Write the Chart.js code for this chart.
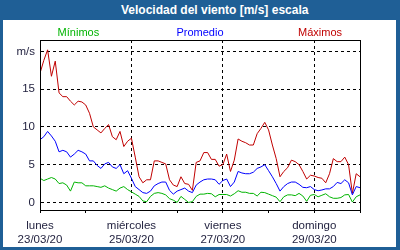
<!DOCTYPE html>
<html>
<head>
<meta charset="utf-8">
<script src="https://cdn.jsdelivr.net/npm/chart.js@4"></script>
<style>
    body { margin: 0; width: 400px; height: 250px; background: #1f5f96; position: relative; overflow: hidden; font-family: 'Liberation Sans', Arial, sans-serif; }
    #title { position: absolute; left: 121px; top: 0; height: 20px; line-height: 20px; color: #fff; font-weight: bold; font-size: 12px; white-space: nowrap; }
    #box { position: absolute; left: 3px; top: 20px; width: 393px; height: 227px; background: #fff; }
</style>
</head>
<body>
<div id="title">Velocidad del viento [m/s] escala</div>
<div id="box"><canvas id="windChart" width="393" height="227"></canvas></div>
<script>
// hours since lunes 23/03/20 00:00, one reading every 2 hours
const stepHours = 2;
const dayTicks = [0, 48, 96, 144];
const dayNames = ['lunes', 'miércoles', 'viernes', 'domingo'];
const dayDates = ['23/03/20', '25/03/20', '27/03/20', '29/03/20'];
const yTicks = [0, 5, 10, 15, 20];
const seriesNames = ['Mínimos', 'Promedio', 'Máximos'];

const maximos = [
    17.1, 18.8, 20.2, 16.7, 18.7, 14.5, 14.0, 14.0, 13.4, 12.9, 13.4, 13.3, 12.9, 11.8, 10.0, 9.6, 9.2, 9.8, 10.3, 8.7, 8.3, 9.4,
    7.4, 8.1, 8.5, 6.0, 3.4, 2.6, 3.0, 3.0, 5.5, 5.5, 5.3, 5.1, 3.0, 2.3, 2.1, 3.4, 2.5, 2.4, 1.6, 5.3, 5.5,
    6.6, 6.6, 5.7, 5.7, 4.8, 5.0, 6.4, 4.1, 5.6, 8.4, 8.1, 7.9, 7.6, 7.6, 9.1, 9.8, 10.6, 9.6, 7.6, 5.8, 3.4,
    4.1, 4.6, 5.6, 5.4, 5.0, 4.1, 3.1, 3.6, 3.5, 3.3, 3.2, 2.6, 3.8, 5.8, 5.4, 5.4, 6.0, 5.0, 1.2, 3.8, 3.4
];
const promedio = [
    8.3, 8.7, 9.4, 8.8, 8.1, 6.7, 6.9, 6.7, 6.0, 6.4, 6.9, 6.7, 6.4, 5.5, 5.5, 4.9, 4.5, 5.1, 5.3, 4.7, 4.5, 5.0,
    3.8, 4.2, 3.2, 2.1, 1.7, 1.3, 1.2, 1.5, 2.2, 2.5, 2.7, 2.7, 1.6, 1.1, 1.5, 1.7, 1.9, 1.5, 1.3, 2.3, 2.7,
    3.0, 3.1, 3.1, 3.0, 2.4, 2.9, 3.1, 2.1, 2.7, 4.1, 3.9, 3.8, 3.8, 4.0, 4.5, 4.7, 5.0, 4.2, 3.4, 2.5, 1.5,
    2.1, 2.5, 2.7, 2.7, 2.4, 2.0, 1.95, 2.1, 1.7, 1.55, 1.65, 1.8, 1.8, 2.1, 2.65, 2.5, 3.0, 2.6, 1.0, 2.1, 1.95
];
const minimos = [
    3.2, 2.9, 3.1, 3.3, 3.1, 2.5, 2.6, 2.3, 1.5, 2.7, 2.6, 2.6, 2.2, 2.2, 2.2, 2.1, 2.0, 2.2, 1.9, 1.7, 1.5, 1.9,
    2.1, 1.7, 1.4, 1.1, 0.8, 0.2, 0.1, 0.8, 1.2, 1.3, 1.2, 1.0, 0.5, 0.3, 0.0, 0.8, 0.4, 0.0, 0.1, 0.8, 1.1,
    1.1, 1.2, 1.15, 0.75, 1.05, 1.05, 1.05, 0.85, 1.15, 1.55, 1.35, 1.35, 1.2, 1.2, 0.85, 1.35, 1.3, 1.1, 0.9, 0.7, 0.1,
    0.75, 1.0, 1.0, 0.9, 1.2, 0.85, 0.15, 0.95, 1.05, 0.75, 0.95, 1.15, 0.75, 0.55, 0.55, 0.65, 1.0, 1.05, 0.05, 0.75, 1.0
];

const colors = ['#00b400', '#0000ff', '#c00000'];
const textColor = '#1e1e3c';

function toPoints(values) {
    return values.map(function(v, i) { return { x: i * stepHours, y: v }; });
}

// frame round the plot and the three series names above it
const framePlugin = {
    id: 'frame',
    afterDraw: function(chart) {
        const ctx = chart.ctx;
        const a = chart.chartArea;
        ctx.save();
        ctx.strokeStyle = '#000';
        ctx.lineWidth = 1;
        ctx.strokeRect(Math.round(a.left) + 0.5, Math.round(a.top) + 0.5, Math.round(a.right - a.left), Math.round(a.bottom - a.top));
        ctx.font = '11px "Liberation Sans", Arial, sans-serif';
        ctx.textAlign = 'center';
        ctx.textBaseline = 'middle';
        const w = a.right - a.left;
        const spots = [0.12, 0.5, 0.875];
        seriesNames.forEach(function(name, i) {
            ctx.fillStyle = colors[i];
            ctx.fillText(name, a.left + w * spots[i], 12.5);
        });
        ctx.restore();
    }
};

const ctx = document.getElementById('windChart').getContext('2d');
new Chart(ctx, {
    type: 'line',
    data: {
        datasets: [
            { label: seriesNames[0], data: toPoints(minimos), borderColor: colors[0] },
            { label: seriesNames[1], data: toPoints(promedio), borderColor: colors[1] },
            { label: seriesNames[2], data: toPoints(maximos), borderColor: colors[2] }
        ]
    },
    options: {
        responsive: false,
        animation: false,
        layout: { padding: { top: 20, right: 36, left: 0, bottom: 0 } },
        elements: {
            line: { borderWidth: 1, tension: 0 },
            point: { radius: 0 }
        },
        plugins: { legend: { display: false }, tooltip: { enabled: false } },
        scales: {
            x: {
                type: 'linear',
                min: 0,
                max: 168,
                afterBuildTicks: function(axis) {
                    axis.ticks = [0, 24, 48, 72, 96, 120, 144, 168].map(function(v) { return { value: v }; });
                },
                afterFit: function(scale) { scale.height = 37; },
                grid: {
                    color: function(c) {
                        const v = c.tick ? c.tick.value : 0;
                        return (v % 48 === 0 && v > 0 && v < 168) ? '#000' : 'rgba(0,0,0,0)';
                    },
                    tickColor: '#000',
                    tickLength: 3,
                    tickBorderDash: [],
                    lineWidth: 1
                },
                border: { color: '#000', dash: [3, 3] },
                ticks: {
                    autoSkip: false,
                    maxRotation: 0,
                    padding: 6,
                    color: textColor,
                    font: { family: 'Liberation Sans', size: 11.5 },
                    callback: function(v) {
                        const i = dayTicks.indexOf(v);
                        return i >= 0 ? [dayNames[i], dayDates[i]] : '';
                    }
                }
            },
            y: {
                min: -1,
                max: 21.5,
                afterBuildTicks: function(axis) {
                    axis.ticks = yTicks.map(function(v) { return { value: v }; });
                },
                afterFit: function(scale) { scale.width = 37; },
                grid: { color: '#000', drawTicks: false, lineWidth: 1 },
                border: { color: '#000', dash: [3, 3] },
                ticks: {
                    padding: 5,
                    color: textColor,
                    font: { family: 'Liberation Sans', size: 11.5 },
                    callback: function(v) { return v === 20 ? 'm/s' : v; }
                }
            }
        }
    },
    plugins: [framePlugin]
});
</script>
</body>
</html>
